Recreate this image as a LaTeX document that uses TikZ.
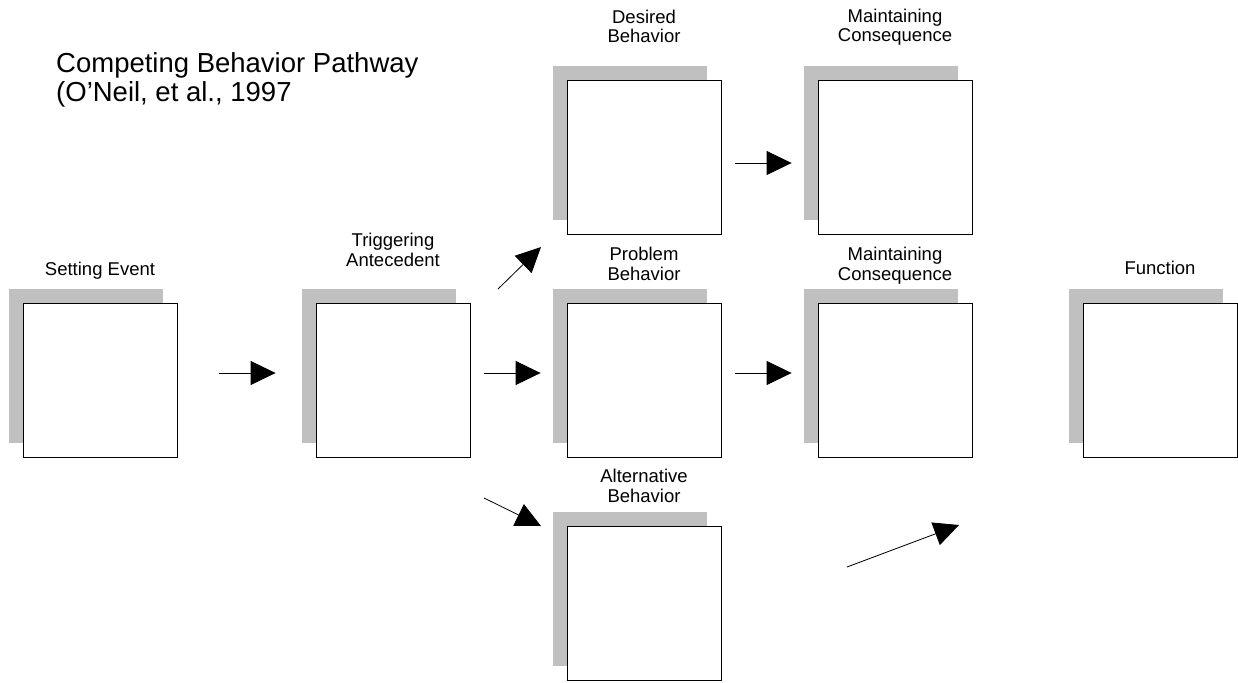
\documentclass[tikz,border=0pt]{standalone}
\usepackage{fontspec}
\setmainfont{Liberation Sans}
\usetikzlibrary{shadows,arrows.meta}
\definecolor{shadegray}{RGB}{192,192,192}

\begin{document}
\begin{tikzpicture}[
        x=1pt, y=-1pt,
        card/.style = {draw=black, fill=white, line width=0.8pt, minimum size=154pt, inner sep=0pt,
            drop shadow={shadow xshift=-14pt, shadow yshift=14pt, fill=shadegray, opacity=1}},
        caption/.style = {anchor=base, align=center, inner sep=0pt, font=\fontsize{18.5}{19.5}\selectfont},
        flow/.style = {line width=0.8pt, -{Triangle[length=25pt, width=24pt]}}
    ]
        \useasboundingbox (0,0) rectangle (1238,682);

        \node[anchor=base west, align=left, inner sep=0pt, font=\fontsize{27.5}{29}\selectfont]
            (title) at (56,102) {Competing Behavior Pathway\\(O’Neil, et al., 1997};

        % boxes
        \node[card] (se)  at (100,380)  {};
        \node[card] (ta)  at (393,380)  {};
        \node[card] (db)  at (644,157)  {};
        \node[card] (pb)  at (644,380)  {};
        \node[card] (ab)  at (644,603)  {};
        \node[card] (mct) at (895,157)  {};
        \node[card] (mcm) at (895,380)  {};
        \node[card] (fn)  at (1160,380) {};

        % captions (base = last line)
        \node[caption] (seText)  at (100,275)  {Setting Event};
        \node[caption] (taText)  at (393,266)  {Triggering\\Antecedent};
        \node[caption] (dbText)  at (644,43)   {Desired\\Behavior};
        \node[caption] (pbText)  at (644,280)  {Problem\\Behavior};
        \node[caption] (abText)  at (644,502)  {Alternative\\Behavior};
        \node[caption] (mctText) at (895,42)   {Maintaining\\Consequence};
        \node[caption] (mcmText) at (895,280)  {Maintaining\\Consequence};
        \node[caption] (fnText)  at (1160,274) {Function};

        % arrows
        \draw[flow, shorten <=42pt, shorten >=40pt] ([yshift=7pt]se.east) -- ([yshift=7pt]ta.west);
        \draw[flow, shorten <=14pt, shorten >=26pt] ([yshift=7pt]ta.east) -- ([yshift=7pt]pb.west);
        \draw[flow, shorten <=14pt, shorten >=26pt] ([yshift=-6pt]db.east) -- ([yshift=-6pt]mct.west);
        \draw[flow, shorten <=14pt, shorten >=26pt] ([yshift=7pt]pb.east) -- ([yshift=7pt]mcm.west);

        \coordinate (upFrom) at (498,289);
        \coordinate (upTo) at (541,247);
        \coordinate (downFrom) at (484,498);
        \coordinate (downTo) at (541,526);
        \coordinate (fnFrom) at (847,567);
        \coordinate (fnTo) at (959,525);
        \draw[flow] (upFrom) -- (upTo);
        \draw[flow] (downFrom) -- (downTo);
        \draw[flow] (fnFrom) -- (fnTo);
    \end{tikzpicture}
\end{document}
